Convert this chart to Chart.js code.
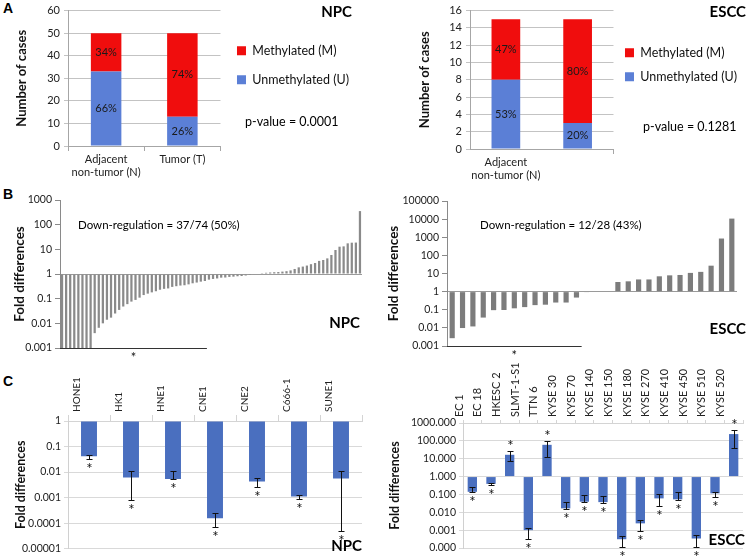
<!DOCTYPE html>
<html>
<head>
<meta charset="utf-8">
<script src="https://cdn.jsdelivr.net/npm/chart.js@4.4.1/dist/chart.umd.min.js"></script>
<style>
  body { margin: 0; background: #fff; overflow: hidden; }
  #fig { position: relative; width: 747px; height: 558px; overflow: hidden; }
  #fig canvas { position: absolute; }
  .panel { position: absolute; font: bold 14px "Liberation Sans", Arial, sans-serif; color: #000; }
</style>
</head>
<body>
<div id="fig">
  <div class="panel" style="left:3px;top:0px">A</div>
  <div class="panel" style="left:3px;top:186px">B</div>
  <div class="panel" style="left:3px;top:373px">C</div>
  <canvas id="aNpc" width="370" height="185" style="left:0;top:0"></canvas>
  <canvas id="aEscc" width="377" height="185" style="left:370px;top:0"></canvas>
  <canvas id="bNpc" width="370" height="175" style="left:0;top:185px"></canvas>
  <canvas id="bEscc" width="377" height="175" style="left:370px;top:185px"></canvas>
  <canvas id="cNpc" width="370" height="198" style="left:0;top:360px"></canvas>
  <canvas id="cEscc" width="377" height="198" style="left:370px;top:360px"></canvas>
</div>
<script>
// ---- A: methylation status (number of cases) ----
const groups = [['Adjacent', 'non-tumor (N)'], 'Tumor (T)'];
const npcUnmeth = [33, 13];
const npcMeth = [17, 37];
const npcUnmethPct = ['66%', '26%'];
const npcMethPct = ['34%', '74%'];
const esccUnmeth = [8, 3];
const esccMeth = [7, 12];
const esccUnmethPct = ['53%', '20%'];
const esccMethPct = ['47%', '80%'];

// ---- B: fold differences in primary tumors, sorted ----
const npcFold = [
  0.0008, 0.0008, 0.0008, 0.0008, 0.0008, 0.0008, 0.0008, 0.0008,
  0.004, 0.0066, 0.01, 0.014, 0.017, 0.025, 0.035, 0.048, 0.06, 0.076,
  0.089, 0.11, 0.14, 0.16, 0.18, 0.2, 0.23, 0.25, 0.26, 0.3,
  0.32, 0.34, 0.35, 0.38, 0.42, 0.45, 0.49, 0.52, 0.59, 0.63,
  0.66, 0.71, 0.72, 0.76, 0.78, 0.81, 0.83, 0.87, 0.91, 0.95,
  1.05, 1.08, 1.12, 1.15, 1.18, 1.2, 1.25, 1.3, 1.4, 1.6,
  1.86, 2.0, 2.2, 2.5, 2.8, 3.4, 3.7, 4.3, 5.9, 9.4,
  12.8, 13.2, 17.5, 18.6, 18.8, 355
];
const esccFold = [
  0.0027, 0.0098, 0.012, 0.037, 0.095, 0.097, 0.12, 0.14, 0.18, 0.19,
  0.25, 0.25, 0.47, 0.93, 1.0, 1.0,
  3.4, 3.7, 4.7, 4.7, 7, 7.9, 8.3, 10.8, 12.3, 27, 850, 10700
];
const npcFoldTicks = [1000, 100, 10, 1, 0.1, 0.01, 0.001];
const esccFoldTicks = [100000, 10000, 1000, 100, 10, 1, 0.1, 0.01, 0.001];

// ---- C: cell lines ----
const npcCells = ['HONE1', 'HK1', 'HNE1', 'CNE1', 'CNE2', 'C666-1', 'SUNE1'];
const npcCellFold = [0.042, 0.0062, 0.0053, 0.000155, 0.0043, 0.0011, 0.0056];
const npcCellHi = [0.047, 0.011, 0.011, 0.00024, 0.006, 0.0013, 0.011];
const npcCellLo = [0.033, 0.00083, 0.0052, 0.00007, 0.0026, 0.0009, 0.00005];
const npcCellTicks = [1, 0.1, 0.01, 0.001, 0.0001, 0.00001];

const esccCells = ['EC 1', 'EC 18', 'HKESC 2', 'SLMT-1-S1', 'TTN 6', 'KYSE 30', 'KYSE 70', 'KYSE 140',
  'KYSE 150', 'KYSE 180', 'KYSE 270', 'KYSE 410', 'KYSE 450', 'KYSE 510', 'KYSE 520'];
const esccCellFold = [0.14, 0.39, 16.6, 0.001, 60, 0.0166, 0.039, 0.037, 0.00031, 0.0024, 0.06, 0.053, 0.00034, 0.115, 240];
const esccCellHi = [0.27, 0.46, 27, 0.0014, 100, 0.039, 0.093, 0.085, 0.0005, 0.0036, 0.1, 0.13, 0.00057, 0.14, 420];
const esccCellLo = [0.13, 0.34, 7.6, 0.00031, 13, 0.015, 0.036, 0.035, 0.00012, 0.00088, 0.023, 0.05, 0.00012, 0.075, 39];
const esccCellTicks = [1000, 100, 10, 1, 0.1, 0.01, 0.001, 0.0001];

Chart.defaults.font.family = 'Lato, "Noto Sans", sans-serif';
Chart.defaults.color = '#222';
Chart.defaults.animation = false;

// percent text inside the stacked segments
const segLabels = {
  id: 'segLabels',
  afterDatasetsDraw(chart, args, opts) {
    if (!opts.labels) return;
    const ctx = chart.ctx;
    ctx.save();
    ctx.font = '11px Lato';
    ctx.fillStyle = '#1a1a1a';
    ctx.textAlign = 'center';
    ctx.textBaseline = 'middle';
    opts.labels.forEach((arr, di) => {
      chart.getDatasetMeta(di).data.forEach((bar, i) => {
        const c = bar.getCenterPoint();
        ctx.fillText(arr[i], c.x, c.y);
      });
    });
    ctx.restore();
  }
};

// error bars + significance stars for the cell line charts
const errorBars = {
  id: 'errorBars',
  afterDatasetsDraw(chart, args, opts) {
    if (!opts.hi) return;
    const { ctx, scales: { y } } = chart;
    const vals = chart.data.datasets[0].data;
    ctx.save();
    ctx.strokeStyle = '#111';
    ctx.lineWidth = 1;
    ctx.fillStyle = '#111';
    ctx.font = '15px Lato';
    ctx.textAlign = 'center';
    chart.getDatasetMeta(0).data.forEach((bar, i) => {
      const x = Math.round(bar.x) + 0.5;
      const top = Math.round(y.getPixelForValue(opts.hi[i])) + 0.5;
      const bot = Math.round(y.getPixelForValue(opts.lo[i])) + 0.5;
      ctx.beginPath();
      ctx.moveTo(x, top); ctx.lineTo(x, bot);
      ctx.moveTo(x - 3, top); ctx.lineTo(x + 3, top);
      ctx.moveTo(x - 3, bot); ctx.lineTo(x + 3, bot);
      ctx.stroke();
      if (vals[i] < 1) ctx.fillText('*', x, bot + 14);
      else ctx.fillText('*', x, top - 1);
    });
    ctx.restore();
  }
};

// line + star under the down-regulated group
const starBracket = {
  id: 'starBracket',
  afterDatasetsDraw(chart, args, opts) {
    if (opts.end == null) return;
    const { ctx, chartArea, scales: { x } } = chart;
    const xEnd = x.getPixelForValue(opts.end);
    ctx.save();
    ctx.strokeStyle = '#333';
    ctx.lineWidth = 1;
    ctx.beginPath();
    ctx.moveTo(chartArea.left, Math.round(chartArea.bottom) + 0.5);
    ctx.lineTo(xEnd, Math.round(chartArea.bottom) + 0.5);
    ctx.stroke();
    ctx.fillStyle = '#111';
    ctx.font = '13px Lato';
    ctx.textAlign = 'center';
    ctx.textBaseline = 'top';
    ctx.fillText('*', (chartArea.left + xEnd) / 2, chartArea.bottom + 3);
    ctx.restore();
  }
};

// free text (panel names, p-values, notes)
const notes = {
  id: 'notes',
  afterDraw(chart, args, opts) {
    if (!opts.items) return;
    const ctx = chart.ctx;
    opts.items.forEach(n => {
      ctx.save();
      ctx.font = n.font;
      ctx.fillStyle = '#000';
      ctx.textAlign = n.align || 'left';
      ctx.textBaseline = 'middle';
      ctx.fillText(n.text, n.x, n.y);
      ctx.restore();
    });
  }
};

Chart.register(segLabels, errorBars, starBracket, notes);

function methChart(id, unmeth, meth, pcts, yMax, yStep, opt) {
  return new Chart(document.getElementById(id), {
    type: 'bar',
    data: {
      labels: groups,
      datasets: [
        { label: 'Unmethylated (U)', data: unmeth, backgroundColor: '#5b7fd6' },
        { label: 'Methylated (M)', data: meth, backgroundColor: '#f00d0d' }
      ]
    },
    options: {
      responsive: false,
      layout: { padding: opt.padding },
      barPercentage: 0.4,
      categoryPercentage: 1,
      scales: {
        x: {
          stacked: true,
          afterFit: s => { s.height = opt.xHeight; },
          grid: { drawOnChartArea: false, tickLength: 5, color: '#a6a6a6' },
          border: { color: '#a6a6a6' },
          ticks: { font: { size: 11 }, padding: 2, maxRotation: 0 }
        },
        y: {
          stacked: true,
          min: 0, max: yMax,
          afterFit: s => { s.width = opt.yWidth; },
          ticks: { stepSize: yStep, font: { size: 11 }, padding: 4 },
          grid: { color: '#c3c3c3', tickLength: 4 },
          border: { color: '#a6a6a6' },
          title: { display: true, text: 'Number of cases', font: { size: 13, weight: 'bold' }, color: '#111', padding: { top: 0, bottom: 0 } }
        }
      },
      plugins: {
        legend: {
          position: 'right',
          align: 'start',
          reverse: true,
          maxWidth: 200,
          title: { display: true, text: '', font: { size: 10 }, padding: { top: opt.legendTop, bottom: 0 } },
          labels: { boxWidth: 9, boxHeight: 9, font: { size: 12.5 }, color: '#111', padding: opt.legendGap }
        },
        tooltip: { enabled: false },
        segLabels: { labels: pcts },
        notes: { items: opt.notes }
      }
    }
  });
}

methChart('aNpc', npcUnmeth, npcMeth, [npcUnmethPct, npcMethPct], 60, 10, {
  padding: { left: 14, top: 0, right: 11, bottom: 0 },
  xHeight: 39, yWidth: 54, legendTop: 16, legendGap: 16.5,
  notes: [
    { text: 'NPC', x: 352, y: 12, font: 'bold 15px Lato', align: 'right' },
    { text: 'p-value = 0.0001', x: 245, y: 122, font: '12.5px Lato' }
  ]
});
methChart('aEscc', esccUnmeth, esccMeth, [esccUnmethPct, esccMethPct], 16, 2, {
  padding: { left: 47, top: 0, right: 0, bottom: 0 },
  xHeight: 36, yWidth: 53, legendTop: 23, legendGap: 11.5,
  notes: [
    { text: 'ESCC', x: 376, y: 12, font: 'bold 15px Lato', align: 'right' },
    { text: 'p-value = 0.1281', x: 273, y: 127, font: '12.5px Lato' }
  ]
});

function foldChart(id, values, ticks, color, barPct, opt) {
  return new Chart(document.getElementById(id), {
    type: 'bar',
    data: {
      labels: values.map((v, i) => String(i + 1)),
      datasets: [{ data: values, base: 1, backgroundColor: color, clip: 0 }]
    },
    options: {
      responsive: false,
      layout: { padding: opt.padding },
      barPercentage: barPct,
      categoryPercentage: 1,
      scales: {
        x: { display: false },
        y: {
          type: 'logarithmic',
          min: ticks[ticks.length - 1], max: ticks[0],
          afterFit: s => { s.width = opt.yWidth; },
          afterBuildTicks: s => { s.ticks = ticks.map(v => ({ value: v })); },
          ticks: { font: { size: 10.5 }, padding: 3, callback: v => String(v) },
          grid: {
            color: c => (c.tick && c.tick.value === 1 ? '#9a9a9a' : 'rgba(0,0,0,0)'),
            tickColor: '#8a8a8a', tickLength: 5
          },
          border: { color: '#8a8a8a' },
          title: { display: true, text: 'Fold differences', font: { size: 13.5, weight: 'bold' }, color: '#111', padding: { top: 0, bottom: 0 } }
        }
      },
      plugins: {
        legend: { display: false },
        tooltip: { enabled: false },
        starBracket: { end: opt.bracketEnd },
        notes: { items: opt.notes }
      }
    }
  });
}

foldChart('bNpc', npcFold, npcFoldTicks, '#8a8a8a', 0.55, {
  padding: { left: 12, top: 15, right: 8, bottom: 12 },
  yWidth: 48, bracketEnd: 35.5,
  notes: [
    { text: 'Down-regulation = 37/74 (50%)', x: 78, y: 40, font: '11.5px Lato' },
    { text: 'NPC', x: 360, y: 138, font: 'bold 15px Lato', align: 'right' }
  ]
});
foldChart('bEscc', esccFold, esccFoldTicks, '#7c7c7c', 0.5, {
  padding: { left: 16, top: 16, right: 10, bottom: 14 },
  yWidth: 61, bracketEnd: 12.5,
  notes: [
    { text: 'Down-regulation = 12/28 (43%)', x: 110, y: 40, font: '11.5px Lato' },
    { text: 'ESCC', x: 376, y: 144, font: 'bold 15px Lato', align: 'right' }
  ]
});

function cellChart(id, cells, values, hi, lo, ticks, barPct, opt) {
  return new Chart(document.getElementById(id), {
    type: 'bar',
    data: {
      labels: cells,
      datasets: [{ data: values, base: 1, backgroundColor: '#4a6fbf', clip: 0 }]
    },
    options: {
      responsive: false,
      layout: { padding: opt.padding },
      barPercentage: barPct,
      categoryPercentage: 1,
      scales: {
        x: {
          position: 'top',
          afterFit: s => { s.height = opt.xHeight; },
          grid: { drawOnChartArea: false, color: '#d4d4d4', tickLength: opt.tickLen },
          border: { color: '#d4d4d4' },
          ticks: { font: { size: opt.labelSize }, minRotation: 90, maxRotation: 90, autoSkip: false, padding: 3 }
        },
        y: {
          type: 'logarithmic',
          min: ticks[ticks.length - 1], max: ticks[0],
          afterFit: s => { s.width = opt.yWidth; },
          afterBuildTicks: s => { s.ticks = ticks.map(v => ({ value: v })); },
          ticks: { font: { size: 10.5 }, padding: 3, callback: opt.fmt },
          grid: { color: '#d9d9d9', tickLength: 4 },
          border: { color: '#d0d0d0' },
          title: { display: true, text: 'Fold differences', font: { size: 12.5, weight: 'bold' }, color: '#111', padding: { top: 0, bottom: 0 } }
        }
      },
      plugins: {
        legend: { display: false },
        tooltip: { enabled: false },
        errorBars: { hi: hi, lo: lo },
        notes: { items: opt.notes }
      }
    }
  });
}

cellChart('cNpc', npcCells, npcCellFold, npcCellHi, npcCellLo, npcCellTicks, 0.38, {
  padding: { left: 13, top: 0, right: 8, bottom: 0 },
  xHeight: 61, yWidth: 55, tickLen: 6, labelSize: 10,
  fmt: v => String(v),
  notes: [{ text: 'NPC', x: 362, y: 186, font: 'bold 15px Lato', align: 'right' }]
});
cellChart('cEscc', esccCells, esccCellFold, esccCellHi, esccCellLo, esccCellTicks, 0.5, {
  padding: { left: 17, top: 0, right: 4, bottom: 10 },
  xHeight: 63, yWidth: 76, tickLen: 3, labelSize: 11,
  fmt: v => v.toFixed(3),
  notes: [{ text: 'ESCC', x: 375, y: 180, font: 'bold 15px Lato', align: 'right' }]
});
</script>
</body>
</html>
